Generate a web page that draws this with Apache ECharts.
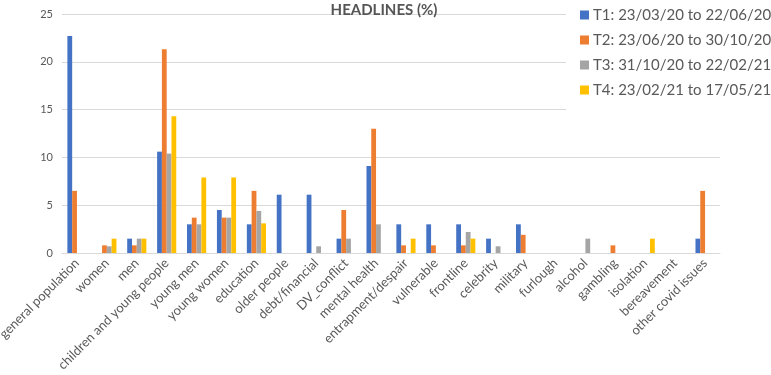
<!DOCTYPE html>
<html>
<head>
<meta charset="utf-8">
<script src="https://cdn.jsdelivr.net/npm/echarts@6/dist/echarts.min.js"></script>
<style>
  html, body { margin: 0; padding: 0; background: #fff; }
  #chart { width: 771px; height: 375px; }
</style>
</head>
<body>
<div id="chart"></div>
<script>
const categories = ['general population', 'women', 'men', 'children and young people', 'young men',
    'young women', 'education', 'older people', 'debt/financial', 'DV_conflict', 'mental health',
    'entrapment/despair', 'vulnerable', 'frontline', 'celebrity', 'military', 'furlough', 'alcohol',
    'gambling', 'isolation', 'bereavement', 'other covid issues'];

const seriesNames = ['T1: 23/03/20 to 22/06/20', 'T2: 23/06/20 to 30/10/20',
    'T3: 31/10/20 to 22/02/21', 'T4: 23/02/21 to 17/05/21'];

const t1 = [22.7, 0, 1.5, 10.6, 3.0, 4.5, 3.0, 6.1, 6.1, 1.5, 9.1, 3.0, 3.0, 3.0, 1.5, 3.0, 0, 0, 0, 0, 0, 1.5];
const t2 = [6.5, 0.8, 0.8, 21.3, 3.7, 3.7, 6.5, 0, 0, 4.5, 13.0, 0.8, 0.8, 0.8, 0, 1.9, 0, 0, 0.8, 0, 0, 6.5];
const t3 = [0, 0.7, 1.5, 10.4, 3.0, 3.7, 4.4, 0, 0.7, 1.5, 3.0, 0, 0, 2.2, 0.7, 0, 0, 1.5, 0, 0, 0, 0];
const t4 = [0, 1.5, 1.5, 14.3, 7.9, 7.9, 3.1, 0, 0, 0, 0, 1.5, 0, 1.5, 0, 0, 0, 0, 0, 1.5, 0, 0];

const colors = ['#4472C4', '#ED7D31', '#A5A5A5', '#FFC000'];
const yTicks = [0, 5, 10, 15, 20, 25];

const chart = echarts.init(document.getElementById('chart'));
const textColor = '#595959';

chart.setOption({
    color: colors,
    animation: false,
    title: {
        text: 'HEADLINES (%)',
        left: 379,
        textAlign: 'center',
        top: -2,
        textStyle: { fontFamily: 'Lato', fontSize: 15, fontWeight: 'bold', color: '#555' }
    },
    legend: {
        orient: 'vertical',
        left: 566,
        top: 0,
        padding: [6, 10, 17, 14],
        backgroundColor: '#fff',
        itemWidth: 9,
        itemHeight: 9,
        itemGap: 7,
        icon: 'rect',
        textStyle: { fontFamily: 'Lato', fontSize: 15, color: textColor, lineHeight: 18, padding: [0, 0, 0, -1] },
        data: seriesNames
    },
    grid: { left: 62, right: 51, top: 14, bottom: 122, containLabel: false, outerBoundsMode: 'none' },
    xAxis: {
        type: 'category',
        data: categories,
        axisLine: { lineStyle: { color: '#D9D9D9' } },
        axisTick: { show: false },
        axisLabel: {
            interval: 0,
            rotate: 45,
            margin: 8,
            fontFamily: 'Lato',
            fontSize: 13,
            color: textColor
        }
    },
    yAxis: {
        type: 'value',
        min: yTicks[0],
        max: yTicks[yTicks.length - 1],
        interval: 5,
        axisLine: { show: false },
        axisTick: { show: false },
        axisLabel: { fontFamily: 'Lato', fontSize: 11, color: textColor, margin: 9 },
        splitLine: { lineStyle: { color: '#D9D9D9' } }
    },
    series: [t1, t2, t3, t4].map((values, i) => ({
        name: seriesNames[i],
        type: 'bar',
        data: values,
        barGap: 0,
        barCategoryGap: '36%',
        z: 1
    }))
});

window.addEventListener('resize', () => chart.resize());
</script>
</body>
</html>
